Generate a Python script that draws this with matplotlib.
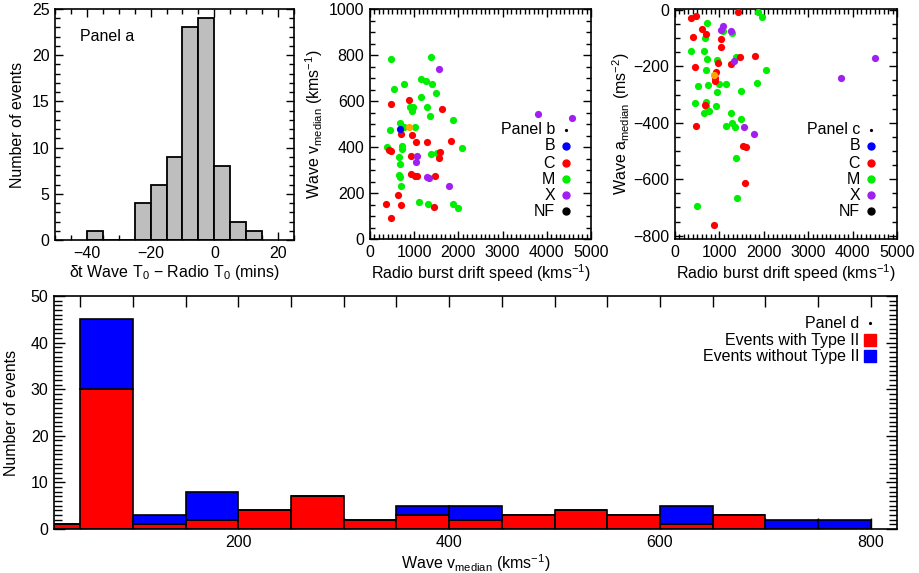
import matplotlib
matplotlib.use("Agg")
import matplotlib.pyplot as plt
from matplotlib.ticker import MultipleLocator
import numpy as np

plt.rcParams['font.family'] = ['Liberation Sans', 'DejaVu Sans']
plt.rcParams['font.size'] = 11.5
plt.rcParams['mathtext.fontset'] = 'custom'
plt.rcParams['mathtext.rm'] = 'Liberation Sans'
plt.rcParams['mathtext.it'] = 'Liberation Sans'

FS = 11.5

# ---- Panel a: delay between wave onset and radio onset ----
dt_bin_left = [-40, -35, -30, -25, -20, -15, -10, -5, 0, 5, 10]
dt_counts = [1, 0, 0, 4, 6, 9, 23, 24, 8, 2, 1]
dt_bin_width = 5

# ---- Panels b & c: flare-class scatter (drift speed, v_median / a_median) ----
drift_M_b = [479, 1391, 532, 760, 1147, 1276, 1406, 1497, 1147, 912, 973, 958, 1292,
             1368, 1884, 448, 684, 768, 1026, 380, 722, 722, 646, 684, 646, 684, 707,
             2074, 1383, 1505, 1109, 1314, 1884, 1983]
vmed_M = [783, 792, 652, 673, 695, 685, 673, 635, 618, 575, 575, 556, 575,
          536, 519, 473, 504, 486, 486, 399, 405, 391, 358, 328, 280, 270, 231,
          395, 371, 374, 159, 154, 152, 134]
drift_C_b = [479, 874, 1619, 692, 943, 1041, 1284, 1824, 426, 464, 920, 1588, 1558,
             935, 1011, 1056, 1474, 623, 357, 707, 1444, 479]
vmed_C = [585, 606, 566, 457, 453, 420, 420, 425, 385, 381, 363, 379, 352,
          283, 272, 276, 274, 191, 152, 149, 138, 90]
drift_X_b = [1565, 3799, 4567, 1071, 1049, 1284, 1337, 1793]
vmed_X = [740, 544, 526, 359, 333, 270, 266, 231]
drift_B_b = [669]
vmed_B = [478]
drift_O_b = [874]
vmed_O = [486]

drift_C_c = [352, 480, 1424, 412, 600, 705, 1027, 1027, 975, 1259, 1454, 1792, 450,
             930, 900, 912, 675, 480, 1537, 1597, 1567, 877]
amed_C = [-29, -21, -8, -96, -68, -86, -103, -132, -189, -191, -166, -163, -204,
          -219, -251, -242, -337, -411, -481, -485, -614, -761]
drift_M_c = [1859, 1964, 712, 1087, 1289, 675, 367, 645, 720, 952, 1372, 2054, 690,
             525, 750, 982, 1147, 952, 1477, 1844, 450, 690, 705, 765, 645, 915,
             1252, 1282, 1140, 1357, 1477, 1380, 1387, 487]
amed_M = [-8, -26, -47, -74, -81, -100, -147, -146, -175, -177, -166, -214, -214,
          -270, -267, -263, -263, -290, -286, -258, -329, -328, -340, -358, -366, -342,
          -366, -400, -413, -415, -386, -526, -667, -696]
drift_X_c = [1072, 1034, 1267, 1327, 1552, 1769, 3733, 4498]
amed_X = [-57, -71, -74, -181, -414, -439, -243, -171]
drift_O_c = [870]
amed_O = [-231]

class_labels = ['B', 'C', 'M', 'X', 'NF']
class_colors = ['#0000ff', '#ff0000', '#00ee00', '#a020f0', '#000000']
orange = '#ffa500'

# ---- Panel d: v_median histogram split by Type II association ----
v_bin_left = [0, 50, 100, 150, 200, 250, 300, 350, 400, 450, 500, 550, 600, 650, 700, 750]
v_with_typeII = [1, 30, 1, 2, 4, 7, 2, 3, 2, 3, 4, 3, 1, 3, 0, 0]
v_without_typeII = [0, 15, 2, 6, 0, 0, 0, 2, 3, 0, 0, 0, 4, 0, 2, 2]
v_bin_width = 50

W, H = 919, 573
fig = plt.figure(figsize=(W / 100, H / 100), dpi=100)


def box(l, t, r, b):
    return [l / W, 1 - b / H, (r - l) / W, (b - t) / H]


def idl_ticks(ax, major_len=6, minor_len=3.5):
    ax.tick_params(which='both', direction='in', top=True, right=True, width=1.0,
                   labelsize=FS, pad=4)
    ax.tick_params(which='major', length=major_len)
    ax.tick_params(which='minor', length=minor_len)
    for s in ax.spines.values():
        s.set_linewidth(1.2)


# Panel a
ax_a = fig.add_axes(box(55, 9, 294, 240))
ax_a.bar(dt_bin_left, dt_counts, width=dt_bin_width, align='edge',
         color='#bebebe', edgecolor='black', linewidth=1.3, zorder=2)
ax_a.set_xlim(-50, 25)
ax_a.set_ylim(0, 25)
ax_a.xaxis.set_major_locator(MultipleLocator(20))
ax_a.xaxis.set_minor_locator(MultipleLocator(5))
ax_a.yaxis.set_major_locator(MultipleLocator(5))
ax_a.yaxis.set_minor_locator(MultipleLocator(1))
idl_ticks(ax_a)
ax_a.set_ylabel('Number of events', labelpad=5)
ax_a.set_xlabel(r'$\mathregular{\delta}$t Wave T$_\mathregular{0}$ $-$ Radio T$_\mathregular{0}$ (mins)',
                labelpad=2)
ax_a.text(0.105, 0.86, 'Panel a', transform=ax_a.transAxes, fontsize=FS)


def class_legend(ax, panel_name, x_marker, y_rows):
    ax.text(x_marker - 0.05, y_rows[0], panel_name, transform=ax.transAxes,
            ha='right', va='center', fontsize=FS)
    ax.plot([x_marker], [y_rows[0]], 'o', color='black', markersize=1.3,
            transform=ax.transAxes, clip_on=False)
    for lab, col, yy in zip(class_labels, class_colors, y_rows[1:]):
        ax.text(x_marker - 0.05, yy, lab, transform=ax.transAxes,
                ha='right', va='center', fontsize=FS)
        ax.plot([x_marker], [yy], 'o', color=col, markersize=5,
                transform=ax.transAxes, clip_on=False)


dot = 27

# Panel b
ax_b = fig.add_axes(box(370, 9, 591, 239))
ax_b.scatter(drift_M_b, vmed_M, s=dot, color=class_colors[2], linewidths=0, zorder=3)
ax_b.scatter(drift_C_b, vmed_C, s=dot, color=class_colors[1], linewidths=0, zorder=3)
ax_b.scatter(drift_X_b, vmed_X, s=dot, color=class_colors[3], linewidths=0, zorder=3)
ax_b.scatter(drift_B_b, vmed_B, s=dot, color=class_colors[0], linewidths=0, zorder=3)
ax_b.scatter(drift_O_b, vmed_O, s=dot, color=orange, linewidths=0, zorder=3)
ax_b.set_xlim(0, 5000)
ax_b.set_ylim(0, 1000)
ax_b.xaxis.set_major_locator(MultipleLocator(1000))
ax_b.xaxis.set_minor_locator(MultipleLocator(100))
ax_b.yaxis.set_major_locator(MultipleLocator(200))
ax_b.yaxis.set_minor_locator(MultipleLocator(50))
idl_ticks(ax_b)
ax_b.set_xlabel(r'Radio burst drift speed (kms$^{\mathregular{-1}}$)', labelpad=2)
ax_b.set_ylabel(r'Wave v$_{\mathregular{median}}$ (kms$^{\mathregular{-1}}$)', labelpad=3)
rows = [1 - (130 - 9) / 230 + 0, 1 - (146 - 9) / 230, 1 - (163 - 9) / 230,
        1 - (179 - 9) / 230, 1 - (195 - 9) / 230, 1 - (211 - 9) / 230]
class_legend(ax_b, 'Panel b', (566 - 370) / 221, rows)

# Panel c
ax_c = fig.add_axes(box(675, 9, 897, 239))
ax_c.scatter(drift_M_c, amed_M, s=dot, color=class_colors[2], linewidths=0, zorder=3)
ax_c.scatter(drift_C_c, amed_C, s=dot, color=class_colors[1], linewidths=0, zorder=3)
ax_c.scatter(drift_X_c, amed_X, s=dot, color=class_colors[3], linewidths=0, zorder=3)
ax_c.scatter(drift_O_c, amed_O, s=dot, color=orange, linewidths=0, zorder=3)
ax_c.set_xlim(0, 5000)
ax_c.set_ylim(-812, 3)
ax_c.xaxis.set_major_locator(MultipleLocator(1000))
ax_c.xaxis.set_minor_locator(MultipleLocator(100))
ax_c.yaxis.set_major_locator(MultipleLocator(200))
ax_c.yaxis.set_minor_locator(MultipleLocator(50))
idl_ticks(ax_c)
ax_c.set_xlabel(r'Radio burst drift speed (kms$^{\mathregular{-1}}$)', labelpad=2)
ax_c.set_ylabel(r'Wave a$_{\mathregular{median}}$ (ms$^{\mathregular{-2}}$)', labelpad=1)
class_legend(ax_c, 'Panel c', (871 - 675) / 222, rows)

# Panel d
ax_d = fig.add_axes(box(54, 296, 897, 529))
ax_d.bar(v_bin_left, v_with_typeII, width=v_bin_width, align='edge',
         color='#ff0000', edgecolor='black', linewidth=1.2, zorder=2)
ax_d.bar(v_bin_left, v_without_typeII, bottom=v_with_typeII, width=v_bin_width,
         align='edge', color='#0000ff', edgecolor='black', linewidth=1.2, zorder=2)
ax_d.set_xlim(25, 825)
ax_d.set_ylim(0, 50)
ax_d.xaxis.set_major_locator(MultipleLocator(200))
ax_d.xaxis.set_minor_locator(MultipleLocator(50))
ax_d.yaxis.set_major_locator(MultipleLocator(10))
ax_d.yaxis.set_minor_locator(MultipleLocator(1))
idl_ticks(ax_d, major_len=8, minor_len=6)
ax_d.tick_params(axis='x', which='minor', length=8)
ax_d.set_ylabel('Number of events', labelpad=8)
ax_d.set_xlabel(r'Wave v$_{\mathregular{median}}$ (kms$^{\mathregular{-1}}$)', labelpad=2)

xm = (870 - 54) / 843
yd = [1 - (323 - 296) / 233, 1 - (340 - 296) / 233, 1 - (356 - 296) / 233]
ax_d.text(xm - 0.013, yd[0], 'Panel d', transform=ax_d.transAxes, ha='right', va='center')
ax_d.plot([xm], [yd[0]], 'o', color='black', markersize=1.3, transform=ax_d.transAxes)
for lab, col, yy in zip(['Events with Type II', 'Events without Type II'],
                        ['#ff0000', '#0000ff'], yd[1:]):
    ax_d.text(xm - 0.013, yy, lab, transform=ax_d.transAxes, ha='right', va='center')
    ax_d.plot([xm], [yy], 's', color=col, markersize=9, transform=ax_d.transAxes)

fig.savefig('out.png', dpi=100)
